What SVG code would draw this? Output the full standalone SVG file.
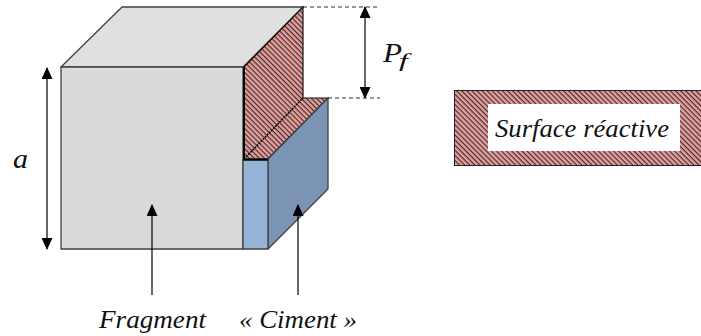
<svg xmlns="http://www.w3.org/2000/svg" width="701" height="336" viewBox="0 0 701 336">
<defs>
<pattern id="hatch" width="3.6" height="3.6" patternUnits="userSpaceOnUse" patternTransform="rotate(45)">
<rect width="3.6" height="3.6" fill="#e39e9c"/>
<rect width="3.6" height="1.1" fill="#3a2a2a"/>
</pattern>
<marker id="ah" viewBox="0 0 12 11" refX="11" refY="5.500" markerWidth="12" markerHeight="11" markerUnits="userSpaceOnUse" orient="auto">
<path d="M0 0L12 5.500L0 11Z" fill="#000"/>
</marker>
</defs>
<style>
.e{stroke:#404040;stroke-width:1.3;stroke-linejoin:round}
.a{stroke:#000;stroke-width:1.2;fill:none;marker-end:url(#ah)}
.d{stroke:#303030;stroke-width:1;stroke-dasharray:4 3;fill:none}
text{font-family:"Liberation Serif",serif;font-style:italic;fill:#111}
</style>
<rect width="701" height="336" fill="#fff"/>
<g id="fragment">
<path class="e" d="M61 67L122 7H303L243 67Z" fill="#e0e0e0"/>
<rect class="e" x="61" y="67" width="182" height="182" fill="#d9d9d9"/>
</g>
<g id="surface-reactive-faces">
<path d="M244 67L303 7V98H328L268 159H244Z" fill="url(#hatch)" stroke="#111" stroke-width="1.2"/>
<path d="M244 159L303 98" stroke="#000" stroke-width="1.5" stroke-dasharray="2 1" fill="none"/>
<path d="M244 67V159" stroke="#000" stroke-width="1.8"/>
</g>
<g id="ciment">
<path class="e" d="M268 159L328 98V189L268 249Z" fill="#7b93b4"/>
<rect class="e" x="243" y="160" width="25" height="89" fill="#95b3d7"/>
<path d="M243 159.500H268" stroke="#000" stroke-width="2"/>
</g>
<g id="connectors">
<line class="a" x1="47" y1="160" x2="47" y2="68"/>
<line class="a" x1="47" y1="160" x2="47" y2="249"/>
<line class="a" x1="365" y1="52" x2="365" y2="7"/>
<line class="a" x1="365" y1="52" x2="365" y2="98"/>
<line class="a" x1="152" y1="295" x2="152" y2="205"/>
<line class="a" x1="298" y1="295" x2="298" y2="205"/>
<line class="d" x1="303" y1="7" x2="380" y2="7"/>
<line class="d" x1="328" y1="98" x2="380" y2="98"/>
</g>
<g id="legend">
<rect x="454.500" y="90.500" width="247" height="75" fill="url(#hatch)" stroke="#222" stroke-width="1"/>
<rect x="488" y="104" width="192" height="47" fill="#fff"/>
<text x="495" y="137" font-size="25" textLength="174" lengthAdjust="spacingAndGlyphs">Surface réactive</text>
</g>
<g id="labels">
<text x="13" y="168" font-size="27" textLength="15" lengthAdjust="spacingAndGlyphs">a</text>
<text x="383" y="62" font-size="27" textLength="19" lengthAdjust="spacingAndGlyphs">P</text>
<text x="399" y="67" font-size="19" textLength="9" lengthAdjust="spacingAndGlyphs">f</text>
<text x="99" y="328" font-size="25" textLength="107" lengthAdjust="spacingAndGlyphs">Fragment</text>
<text x="239" y="328" font-size="25" textLength="118" lengthAdjust="spacingAndGlyphs">« Ciment »</text>
</g>
</svg>
